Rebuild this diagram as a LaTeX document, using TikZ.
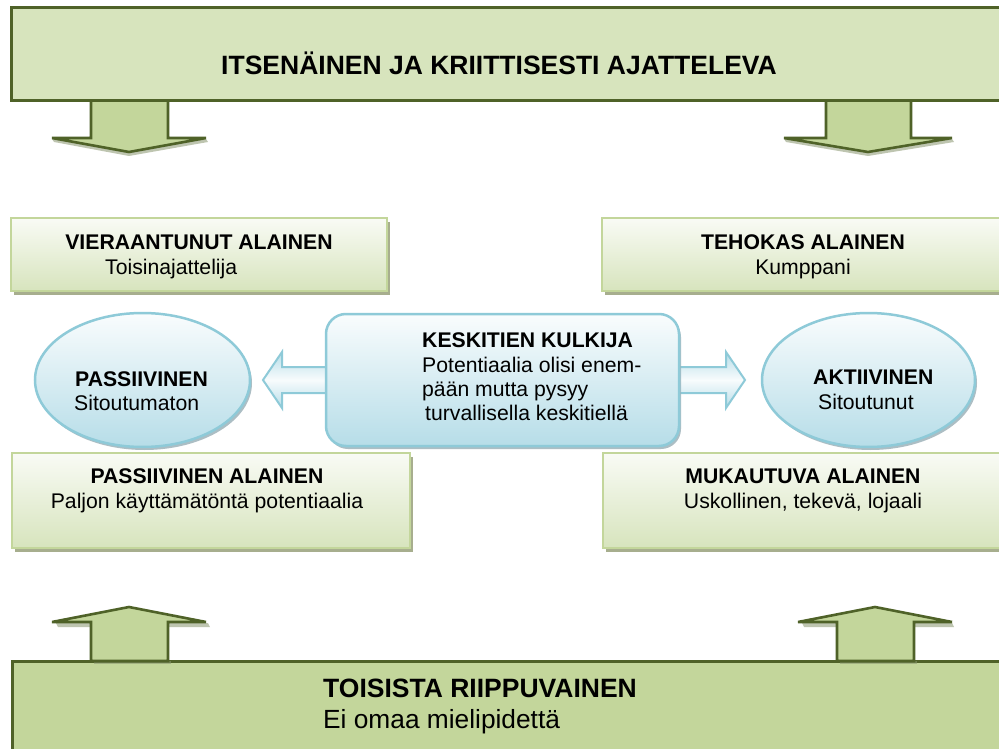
\documentclass[tikz,border=0pt]{standalone}
\usepackage{fontspec}
\setmainfont{Liberation Sans}
\usetikzlibrary{shapes.geometric,shadows}

\definecolor{olive}{HTML}{4F6228}
\definecolor{lightolive}{HTML}{C3D69B}
\definecolor{paleolive}{HTML}{D7E4BD}
\definecolor{greenedge}{HTML}{C3D69B}
\definecolor{greenshadow}{HTML}{A7AE8E}
\definecolor{arrowshadow}{HTML}{8A9770}
\definecolor{blueedge}{HTML}{8ECAD8}
\definecolor{bluefill}{HTML}{B6DDE8}
\definecolor{blueshadow}{HTML}{98AEB6}

\begin{document}
\begin{tikzpicture}[x=1pt,y=-1pt,
  headline/.style={font=\fontsize{26.5}{30}\selectfont\bfseries, inner sep=0pt},
  bodyline/.style={font=\fontsize{26.3}{30}\selectfont, inner sep=0pt},
  boldline/.style={font=\fontsize{21.2}{24}\selectfont\bfseries, inner sep=0pt},
  plainline/.style={font=\fontsize{21.2}{24}\selectfont, inner sep=0pt},
  bandbox/.style={draw=olive, line width=3pt},
  blockarrow/.style={draw=olive, line width=2.6pt, fill=lightolive, line join=miter},
  blockshadow/.style={fill=arrowshadow, opacity=0.55},
  greenbox/.style={rectangle, draw=greenedge, line width=2.5pt, inner sep=0pt,
    top color=white!85!paleolive, bottom color=paleolive,
    drop shadow={shadow xshift=3pt, shadow yshift=-4pt, fill=greenshadow, opacity=1}},
  bluebody/.style={draw=blueedge, line width=2.5pt, inner sep=0pt,
    top color=white!92!bluefill, bottom color=bluefill,
    drop shadow={shadow xshift=2pt, shadow yshift=-3pt, fill=blueshadow, opacity=0.8}},
  sidearrow/.style={draw=blueedge, line width=2pt, line join=miter,
    top color=bluefill, bottom color=bluefill, middle color=white!90!bluefill},
]
\clip (0,0) rectangle (999,749);
\fill[white] (0,0) rectangle (999,749);

% ---- top band and its two arrows
\fill[blockshadow] (54,142) -- (129,156) -- (208,142) -- (206,139) -- (129,152) -- (52,139) -- cycle;
\fill[blockshadow] (786,142) -- (868,156) -- (954,142) -- (952,139) -- (868,152) -- (784,139) -- cycle;
\draw[blockarrow] (91,98) -- (91,138) -- (52,138) -- (129,152) -- (206,138) -- (168,138) -- (168,98) -- cycle;
\draw[blockarrow] (826,98) -- (826,138) -- (784,138) -- (868,152) -- (952,138) -- (911,138) -- (911,98) -- cycle;
\draw[bandbox, fill=paleolive] (11,8) rectangle (1015,101);
\node[headline, anchor=base] (top) at (499,75) {ITSENÄINEN JA KRIITTISESTI AJATTELEVA};

% ---- bottom band and its two arrows
\draw[bandbox, fill=lightolive] (12,661) rectangle (1015,760);
\fill[blockshadow] (56,623) -- (91,623) -- (91,627) -- (58,627) -- cycle;
\fill[blockshadow] (168,623) -- (208,623) -- (210,627) -- (168,627) -- cycle;
\fill[blockshadow] (802,623) -- (837,623) -- (837,627) -- (804,627) -- cycle;
\fill[blockshadow] (914,623) -- (952,623) -- (954,627) -- (914,627) -- cycle;
\fill[blockshadow] (94,661) rectangle (171,664);
\fill[blockshadow] (840,661) rectangle (917,664);
\draw[blockarrow] (91,661) -- (91,622) -- (52,622) -- (129,607) -- (206,622) -- (168,622) -- (168,661) -- cycle;
\draw[blockarrow] (837,661) -- (837,622) -- (798,622) -- (875,607) -- (952,622) -- (914,622) -- (914,661) -- cycle;
\node[headline, anchor=base west] (bottom) at (323,697) {TOISISTA RIIPPUVAINEN};
\node[bodyline, anchor=base west] (bottomsub) at (323,728) {Ei omaa mielipidettä};

% ---- four quadrant boxes
\node[greenbox, minimum width=376pt, minimum height=73pt] (vier) at (199,254.5) {};
\node[greenbox, minimum width=402pt, minimum height=73pt] (teho) at (803,254.5) {};
\node[greenbox, minimum width=398pt, minimum height=95pt] (passal) at (211,500.5) {};
\node[greenbox, minimum width=401pt, minimum height=95pt] (muka) at (803.5,500.5) {};

\node[boldline, anchor=base] (viert) at (199,249) {VIERAANTUNUT ALAINEN};
\node[plainline, anchor=base west] (viers) at (105,274) {Toisinajattelija};
\node[boldline, anchor=base] (tehot) at (803,249) {TEHOKAS ALAINEN};
\node[plainline, anchor=base] (tehos) at (803,274) {Kumppani};
\node[boldline, anchor=base] (passalt) at (207,483) {PASSIIVINEN ALAINEN};
\node[plainline, anchor=base] (passals) at (207,508) {Paljon käyttämätöntä potentiaalia};
\node[boldline, anchor=base] (mukat) at (803,483) {MUKAUTUVA ALAINEN};
\node[plainline, anchor=base] (mukas) at (803,508) {Uskollinen, tekevä, lojaali};

% ---- side arrows out of the middle box
\draw[sidearrow] (330,367) -- (282,367) -- (282,352) -- (263,380) -- (282,408) -- (282,393) -- (330,393);
\draw[sidearrow] (675,367) -- (726,367) -- (726,352) -- (745,380) -- (726,408) -- (726,393) -- (675,393);

% ---- ellipses and middle box
\node[bluebody, ellipse, minimum width=215pt, minimum height=134pt] (passiivinen) at (142.5,380) {};
\node[bluebody, ellipse, minimum width=213pt, minimum height=134pt] (aktiivinen) at (868.5,380) {};
\node[bluebody, rectangle, rounded corners=20pt, minimum width=353pt, minimum height=132pt] (keski) at (502.5,380) {};

\node[boldline, anchor=base west] (passt) at (75,386) {PASSIIVINEN};
\node[plainline, anchor=base west] (passs) at (74,410) {Sitoutumaton};
\node[boldline, anchor=base west] (aktt) at (813,384) {AKTIIVINEN};
\node[plainline, anchor=base west] (akts) at (818,409) {Sitoutunut};

\node[boldline, anchor=base west] (keskit) at (422,347) {KESKITIEN KULKIJA};
\node[plainline, anchor=base west] (keski1) at (422,372) {Potentiaalia olisi enem-};
\node[plainline, anchor=base west] (keski2) at (422,396) {pään mutta pysyy};
\node[plainline, anchor=base west] (keski3) at (425,420) {turvallisella keskitiellä};
\end{tikzpicture}
\end{document}
